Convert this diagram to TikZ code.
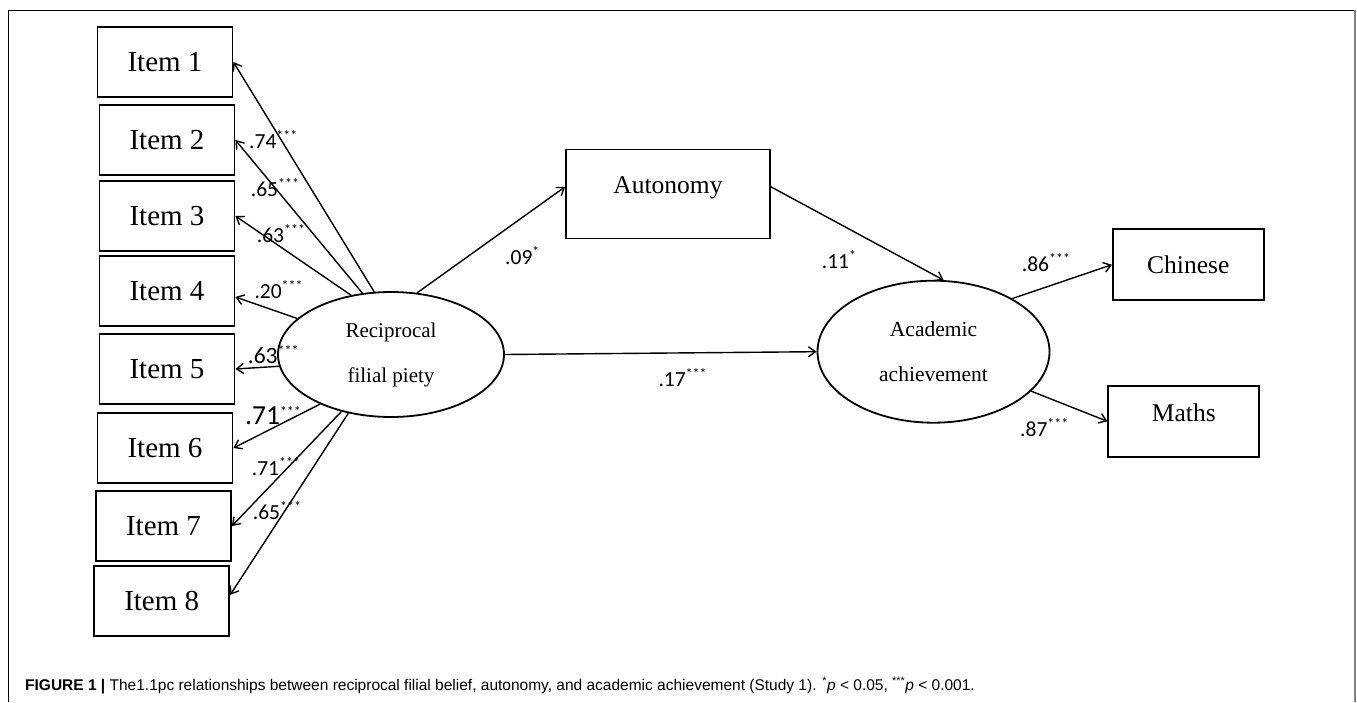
\documentclass[tikz,border=0pt]{standalone}
\usepackage{fontspec}
\setmainfont{Liberation Serif}
\newfontfamily\lblfont{Carlito}
\newfontfamily\capfont{Liberation Sans}
\usetikzlibrary{shapes.geometric,arrows.meta}
\def\sig#1{\raisebox{8pt}{\fontsize{14}{14}\selectfont #1}}
\tikzset{
	itembox/.style={draw, line width=1.8pt, minimum width=135pt, minimum height=70pt, inner sep=0pt, font=\fontsize{29}{34}\selectfont},
	bigbox/.style={draw, line width=1.8pt, minimum width=151pt, minimum height=71pt, inner sep=0pt, font=\fontsize{25.5}{30}\selectfont},
	latent/.style={draw, ellipse, line width=1.8pt, inner sep=0pt, align=center, font=\fontsize{21}{45}\selectfont},
	arr/.style={line width=1.4pt, -{Straight Barb[length=7pt,width=10pt]}},
	coef/.style={anchor=base west, inner sep=0pt, font=\lblfont\fontsize{21.5}{24}\selectfont},
}

\begin{document}
\begin{tikzpicture}[x=1pt, y=-1pt]
			%%%%% START %%%%%
			\useasboundingbox (0,0) rectangle (1357,702);
			
			\draw[line width=1pt] (8,702) -- (8,10) -- (1355,10);
			\draw[line width=1.5pt, color=black!50] (1355,10) -- (1355,702);
			
			\node[itembox] (item1) at (165,62) {Item 1};
			\node[itembox] (item2) at (167,140) {Item 2};
			\node[itembox] (item3) at (167,216) {Item 3};
			\node[itembox] (item4) at (167,291) {Item 4};
			\node[itembox] (item5) at (167,369) {Item 5};
			\node[itembox] (item6) at (165,448) {Item 6};
			\node[itembox] (item7) at (163.5,526) {Item 7};
			\node[itembox] (item8) at (161.7,601) {Item 8};
			
			\node[latent, minimum width=226pt, minimum height=125pt] (rfp) at (391,354.5) {Reciprocal\\filial piety};
			\node[latent, minimum width=232pt, minimum height=142pt, font=\fontsize{21.5}{45}\selectfont] (acad) at (933.5,351.7) {Academic\\achievement};
			
			\node[bigbox, minimum width=204pt, minimum height=89pt, text height=18pt, text depth=20pt] (autonomy) at (668,194) {Autonomy};
			\node[bigbox] (chinese) at (1188.3,264.7) {Chinese};
			\node[bigbox, text height=18pt, text depth=17pt] (maths) at (1183.8,421.3) {Maths};
			
			\draw[arr] (rfp.105) -- (item1.east);
			\draw[arr] (rfp.115) -- (item2.east);
			\draw[arr] (rfp.124) -- (item3.east);
			\draw[arr] (rfp.159) -- (item4.-5);
			\draw[arr] (rfp.186) -- (item5.east);
			\draw[arr] (rfp.215) -- (item6.east);
			\draw[arr] (rfp.229) -- (item7.east);
			\draw[arr] (rfp.234) -- (item8.5);
			
			\draw[arr] (rfp.67) -- (autonomy.176);
			\draw[arr] (autonomy.4) -- (acad.82);
			\draw[arr] (rfp.east) -- (acad.west);
			\draw[arr] (acad.34) -- (chinese.west);
			\draw[arr] (acad.-22) -- (maths.west);
			
			\node[coef] (l1) at (249,148.3) {.74\sig{***}};
			\node[coef] (l2) at (250.7,196.7) {.65\sig{***}};
			\node[coef] (l3) at (256.7,242.7) {.63\sig{***}};
			\node[coef] (l4) at (254.3,298.3) {.20\sig{***}};
			\node[coef, font=\lblfont\fontsize{23.5}{26}\selectfont] (l5) at (247.7,363.3) {.63\sig{***}};
			\node[coef, font=\lblfont\fontsize{27.5}{30}\selectfont] (l6) at (245,424) {.71\sig{***}};
			\node[coef] (l7) at (251.7,475) {.71\sig{***}};
			\node[coef] (l8) at (252.7,519.3) {.65\sig{***}};
			
			\node[coef] (l9) at (505,264) {.09\sig{*}};
			\node[coef] (l10) at (821.7,268.3) {.11\sig{*}};
			\node[coef] (l11) at (658.3,386.7) {.17\sig{***}};
			\node[coef] (l12) at (1021.7,271.7) {.86\sig{***}};
			\node[coef] (l13) at (1020,436.7) {.87\sig{***}};
			
			\node[anchor=base west, inner sep=0pt, font=\capfont\fontsize{15.5}{18}\selectfont] (caption) at (25,690) {\textbf{FIGURE 1} \textbf{|} The1.1pc relationships between reciprocal filial belief, autonomy, and academic achievement (Study 1). \textsuperscript{*}\textit{p} < 0.05, \textsuperscript{***}\textit{p} < 0.001.};
			
			%%%%% END %%%%%
		\end{tikzpicture}
\end{document}
